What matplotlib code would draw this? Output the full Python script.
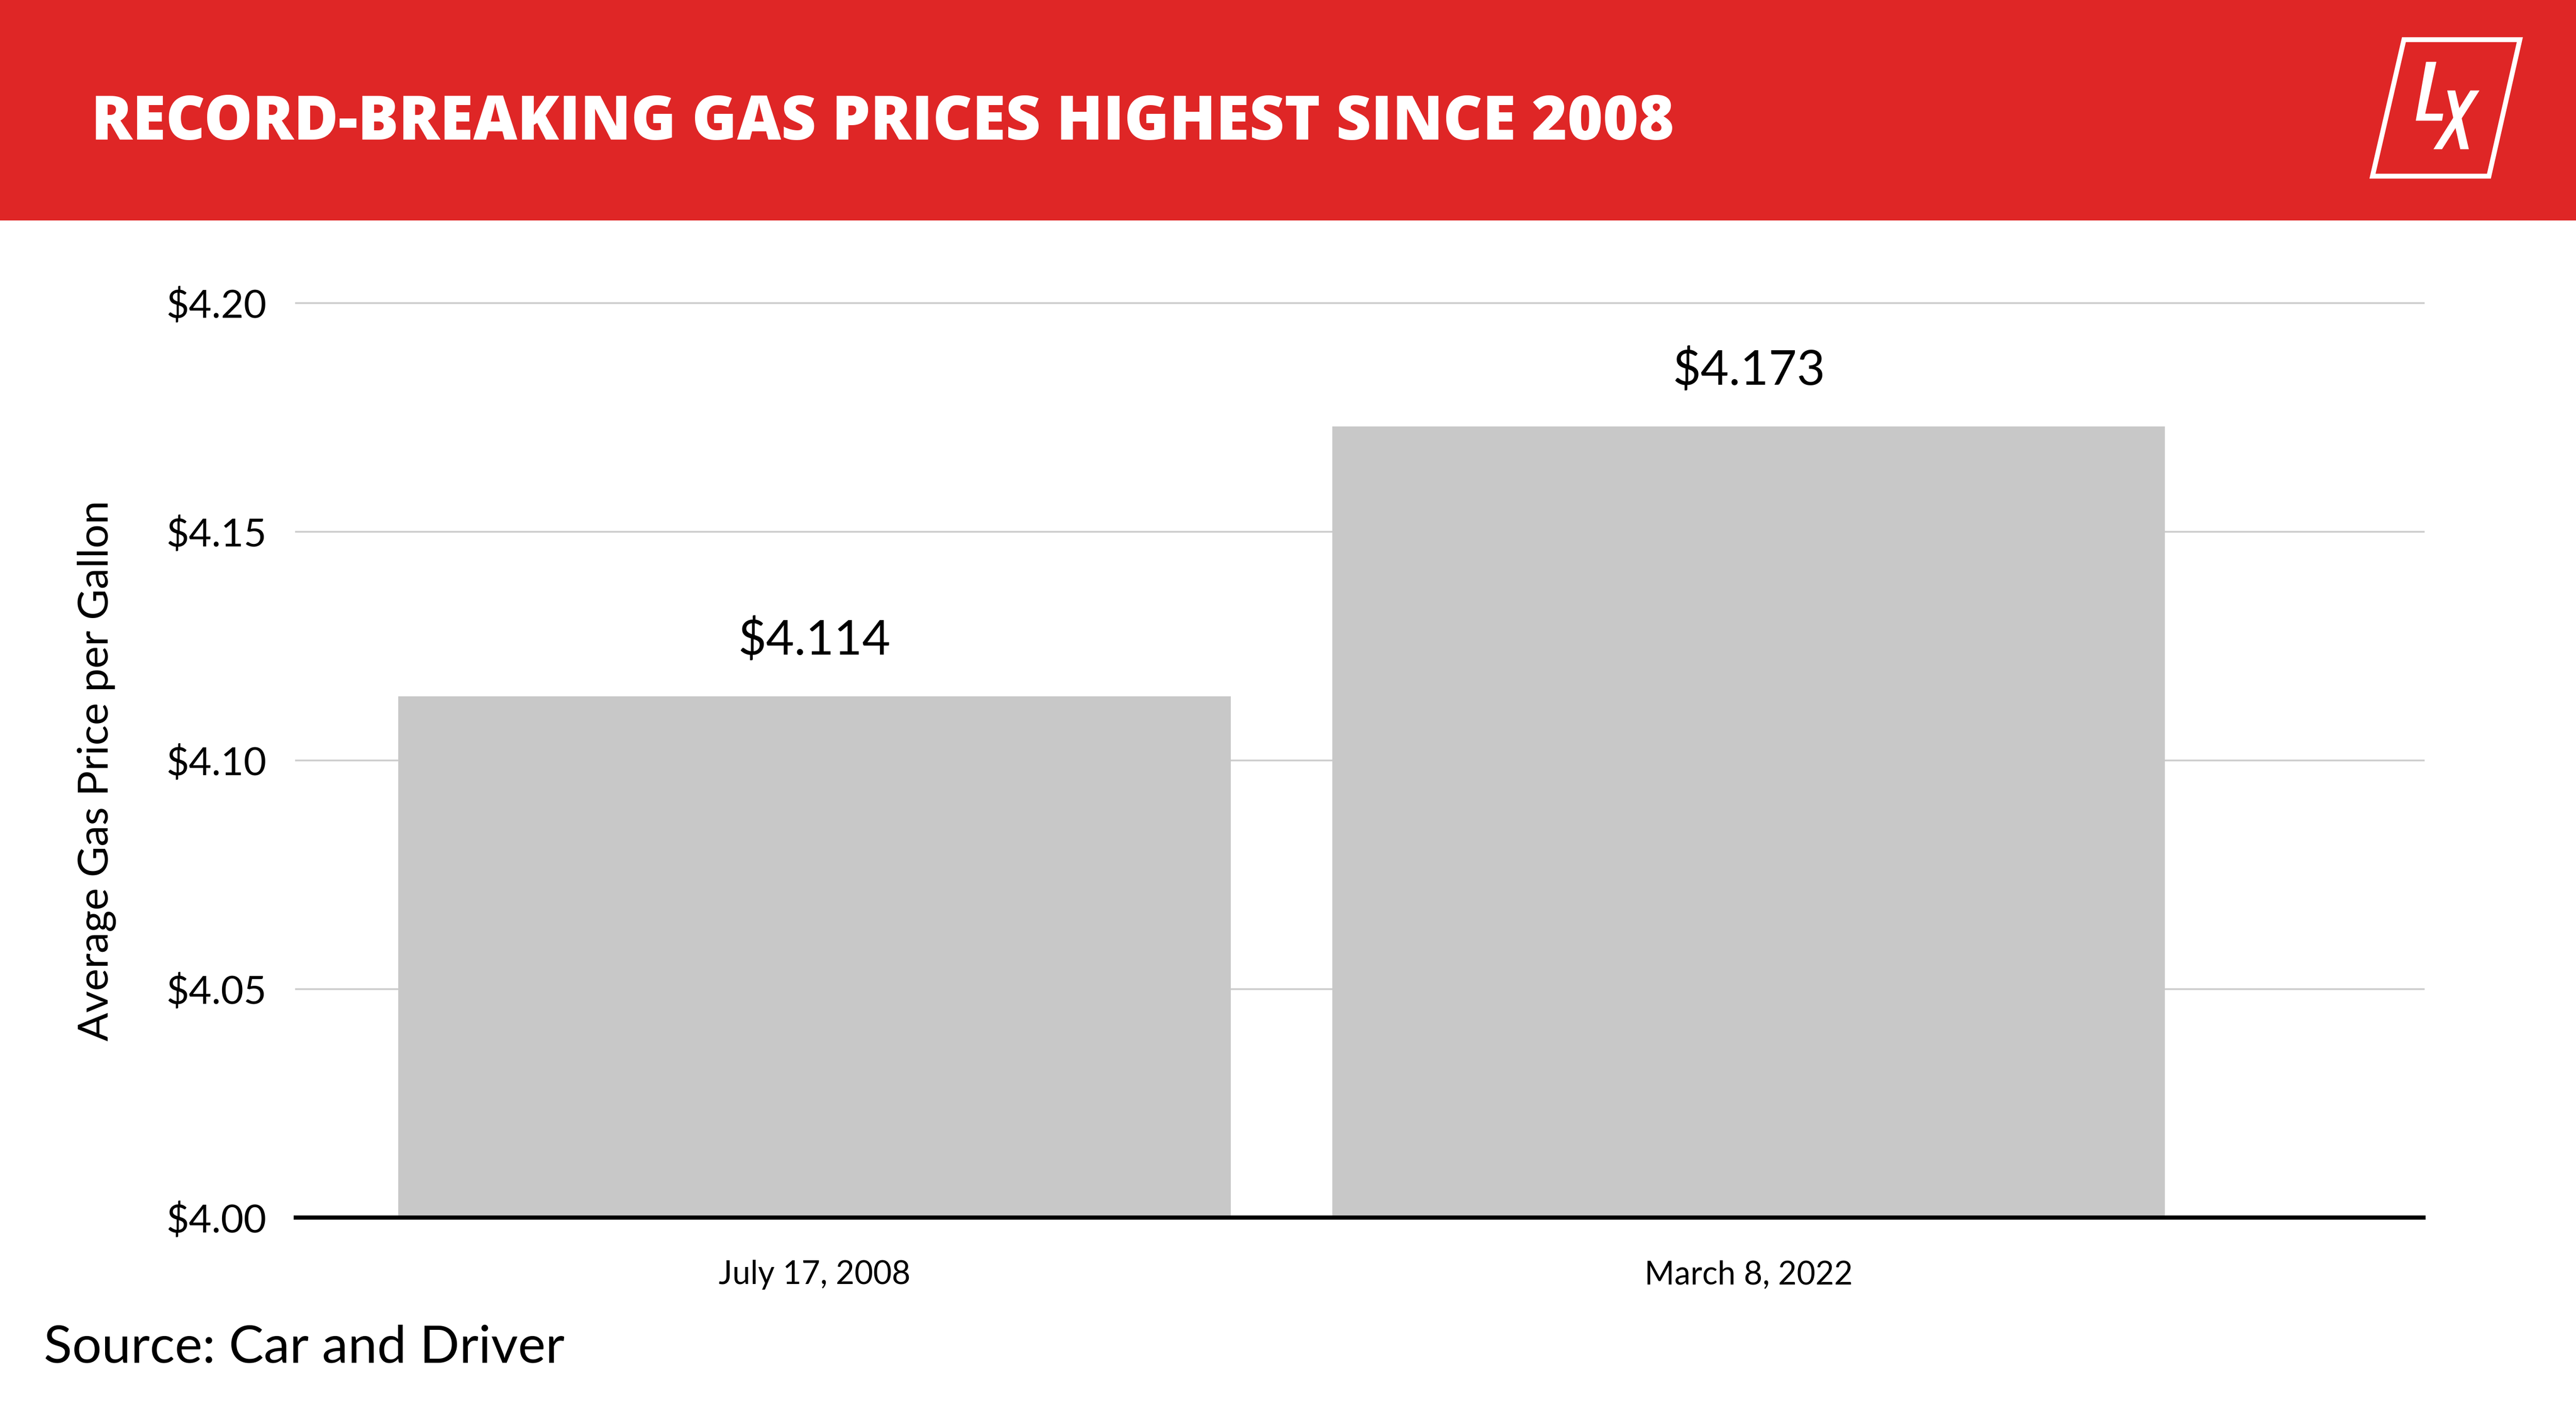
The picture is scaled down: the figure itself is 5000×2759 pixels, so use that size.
import matplotlib
matplotlib.use("Agg")
import matplotlib.pyplot as plt
from matplotlib.patches import Rectangle, Polygon

# canvas size in pixels (dpi 100)
W, H = 5000, 2759

# data
dates = ["July 17, 2008", "March 8, 2022"]
prices = [4.114, 4.173]
y_ticks = [4.00, 4.05, 4.10, 4.15, 4.20]

title = "RECORD-BREAKING GAS PRICES HIGHEST SINCE 2008"
y_label = "Average Gas Price per Gallon"
source = "Source: Car and Driver"

RED = "#DF2626"
BAR = "#C8C8C8"
GRID = "#CCCCCC"

plt.rcParams["font.family"] = ["Lato", "DejaVu Sans"]


def fx(x):
    return x / W


def fy(y):
    # y measured from the top of the image
    return 1 - y / H


def fpts(pts):
    return [(fx(x), fy(y)) for x, y in pts]


fig = plt.figure(figsize=(W / 100, H / 100), dpi=100)
fig.patch.set_facecolor("white")

# red header band
fig.add_artist(Rectangle((0, fy(428)), 1, 428 / H, transform=fig.transFigure,
                         facecolor=RED, edgecolor="none", zorder=0))
fig.text(fx(177), fy(271), title, color="white", fontsize=85,
         family=["Open Sans", "Lato"], fontweight=800, ha="left", va="baseline")

# LX logo
frame = fpts([(4666, 77), (4891, 77), (4831, 342), (4605, 342)])
fig.add_artist(Polygon(frame, closed=True, fill=False, edgecolor="white",
                       lw=6.8, joinstyle="miter", transform=fig.transFigure))
zx, zy = 4500, 0
def logo(pts):
    return fpts([(zx + x / 3, zy + y / 3) for x, y in pts])
letter_L = logo([(627, 360), (687, 360), (622, 662), (727, 662), (720, 703), (567, 703)])
x_stroke1 = logo([(750, 527), (797, 527), (876, 869), (826, 869)])
x_stroke2 = logo([(885, 527), (938, 527), (720, 869), (670, 869)])
for shape in (letter_L, x_stroke1, x_stroke2):
    fig.add_artist(Polygon(shape, closed=True, facecolor="white",
                           edgecolor="none", transform=fig.transFigure))

# chart
ax = fig.add_axes([fx(574), fy(2364), fx(4704) - fx(574), (2364 - 588) / H])
x = list(range(len(dates)))
ax.bar(x, prices, width=0.891, color=BAR, zorder=2)
ax.set_ylim(4.0, 4.2)
ax.set_xlim(-0.555, 1.722)

ax.set_yticks(y_ticks)
ax.set_yticklabels([f"${t:.2f}" for t in y_ticks], fontsize=55)
ax.set_xticks(x)
ax.set_xticklabels(dates, fontsize=45)
ax.tick_params(axis="both", length=0)
ax.tick_params(axis="y", pad=41)
ax.tick_params(axis="x", pad=59)

ax.yaxis.grid(True, color=GRID, lw=2.5)
ax.set_axisbelow(True)
for line in ax.get_ygridlines():
    line.set_clip_on(False)

for side in ("left", "right", "top"):
    ax.spines[side].set_visible(False)
ax.spines["bottom"].set_linewidth(5.8)
ax.spines["bottom"].set_color("black")
ax.spines["bottom"].set_zorder(3)

for xi, v in zip(x, prices):
    ax.annotate(f"${v:.3f}", (xi, v), xytext=(0, 58), textcoords="offset points",
                ha="center", va="baseline", fontsize=68)

fig.text(fx(188), fy(1496), y_label, rotation=90, fontsize=59,
         ha="center", va="center")
fig.text(fx(85), fy(2646), source, fontsize=73, ha="left", va="baseline")

fig.savefig("out.png", dpi=100)
